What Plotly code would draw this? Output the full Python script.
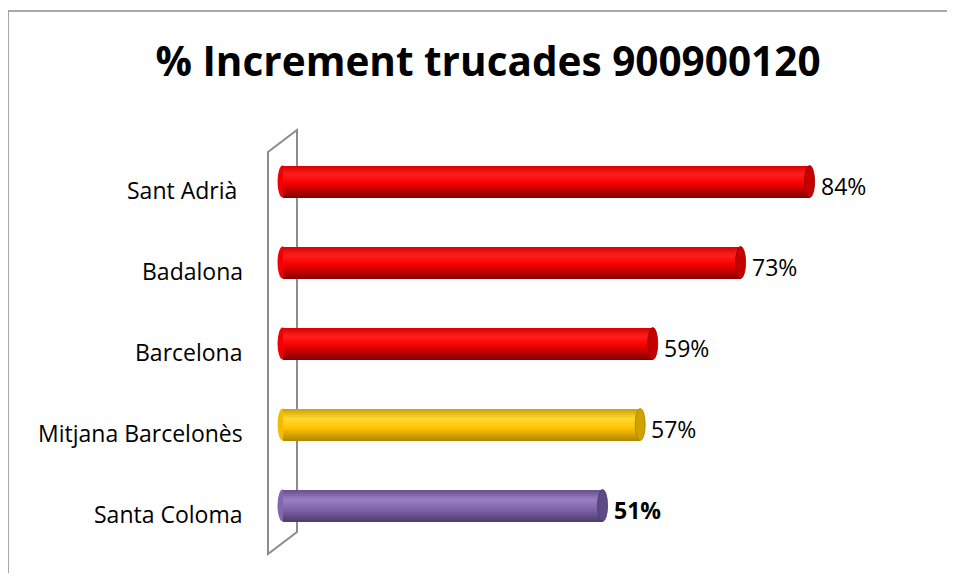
import plotly.graph_objects as go

# ---- data ----
categories = ["Sant Adrià ", "Badalona", "Barcelona", "Mitjana Barcelonès", "Santa Coloma"]
values = [84, 73, 59, 57, 51]
value_labels = ["84%", "73%", "59%", "57%", "51%"]
bold_labels = [False, False, False, False, True]
bar_palette = ["red", "red", "red", "gold", "purple"]
title_text = "% Increment trucades 900900120"

# ---- styles ----
palettes = {
    "red": [(0.0, (215, 0, 0)), (0.25, (255, 30, 30)), (0.55, (245, 0, 0)), (1.0, (130, 0, 0))],
    "gold": [(0.0, (205, 160, 0)), (0.3, (255, 218, 50)), (0.6, (255, 195, 0)), (1.0, (175, 132, 0))],
    "purple": [(0.0, (100, 80, 140)), (0.3, (155, 126, 196)), (0.6, (128, 100, 170)), (1.0, (78, 60, 108))],
}
cap_colors = {"red": "#C40000", "gold": "#CFA200", "purple": "#5E4A86"}
cap_line = {"red": "#9A0000", "gold": "#A88300", "purple": "#4A3A6C"}
left_cap = {"red": "#F00000", "gold": "#F2BC00", "purple": "#8266AE"}
FONT = "'Open Sans', Lato, sans-serif"
BAR_H = 0.395
N = 16
CAP = 0.8
OFF = 8  # page body margin offset


def grad(name, t):
    stops = palettes[name]
    for (t0, c0), (t1, c1) in zip(stops[:-1], stops[1:]):
        if t0 <= t <= t1:
            f = (t - t0) / (t1 - t0)
            c = [round(a + (b - a) * f) for a, b in zip(c0, c1)]
            return "rgb(%d,%d,%d)" % tuple(c)
    return "rgb(%d,%d,%d)" % stops[-1][1]


fig = go.Figure()
h = BAR_H / N
for i in range(N):
    t = (i + 0.5) / N
    fig.add_trace(go.Bar(
        x=values, y=categories, orientation="h",
        width=[BAR_H - i * h] * len(values),
        offset=[-BAR_H / 2 + i * h] * len(values),
        marker=dict(color=[grad(p, t) for p in bar_palette], line=dict(width=0)),
        hoverinfo="skip", showlegend=False,
    ))


def px(x):
    return (x - 270) / 640


def py(y):
    return (546 - y) / 405


shapes = []
# chart border (top and left edges; the rest runs off the page)
shapes.append(dict(type="line", xref="paper", yref="paper",
                   x0=px(8), x1=px(1000), y0=py(11), y1=py(11),
                   line=dict(color="#8c8c8c", width=1.5), layer="below"))
shapes.append(dict(type="line", xref="paper", yref="paper",
                   x0=px(8), x1=px(8), y0=py(11), y1=py(700),
                   line=dict(color="#8c8c8c", width=1.5), layer="below"))
# 3D wall
wall = "M %f,%f L %f,%f L %f,%f L %f,%f Z" % (px(268), py(152), px(297), py(130), px(297), py(532), px(268), py(554))
shapes.append(dict(type="path", xref="paper", yref="paper", path=wall,
                   line=dict(color="#8c8c8c", width=2), layer="below"))

for idx, (v, p) in enumerate(zip(values, bar_palette)):
    shapes.append(dict(type="circle", xref="x", yref="y",
                       x0=-CAP, x1=CAP, y0=idx - BAR_H / 2, y1=idx + BAR_H / 2,
                       fillcolor=left_cap[p], line=dict(width=0), layer="below"))
    shapes.append(dict(type="circle", xref="x", yref="y",
                       x0=v - CAP, x1=v + CAP, y0=idx - BAR_H / 2, y1=idx + BAR_H / 2,
                       fillcolor=cap_colors[p], line=dict(color=cap_line[p], width=0.8), layer="above"))

annotations = []
for c in categories:
    label = c[:-1] + "\u00a0" if c.endswith(" ") else c
    annotations.append(dict(x=px(245), xref="paper", y=c, yref="y",
                            text=label, showarrow=False, xanchor="right", yanchor="middle",
                            yshift=-8, font=dict(family=FONT, size=23, color="#000")))
for c, v, lab, b in zip(categories, values, value_labels, bold_labels):
    annotations.append(dict(x=v, xref="x", y=c, yref="y",
                            text="<b>%s</b>" % lab if b else lab, showarrow=False,
                            xanchor="left", yanchor="middle", xshift=9, yshift=-4,
                            font=dict(family=FONT, size=23, color="#000")))

W, H = 955 - 2 * OFF, 581 - 2 * OFF
fig.update_layout(
    width=W, height=H,
    margin=dict(l=270 - OFF, r=W - (910 - OFF), t=141 - OFF, b=H - (546 - OFF)),
    paper_bgcolor="white", plot_bgcolor="white",
    barmode="overlay", bargap=0,
    title=dict(text="<b>%s</b>" % title_text, x=(488 - OFF) / W, xref="container", xanchor="center",
               y=1 - (62 - OFF) / H, yref="container", yanchor="middle",
               font=dict(family=FONT, size=40.5, color="#000")),
    xaxis=dict(range=[-2, 100], visible=False, fixedrange=True),
    yaxis=dict(type="category", categoryorder="array", categoryarray=categories,
               range=[4.5, -0.5], visible=False, fixedrange=True),
    shapes=shapes, annotations=annotations,
    showlegend=False,
)

fig.write_html("out.html")
